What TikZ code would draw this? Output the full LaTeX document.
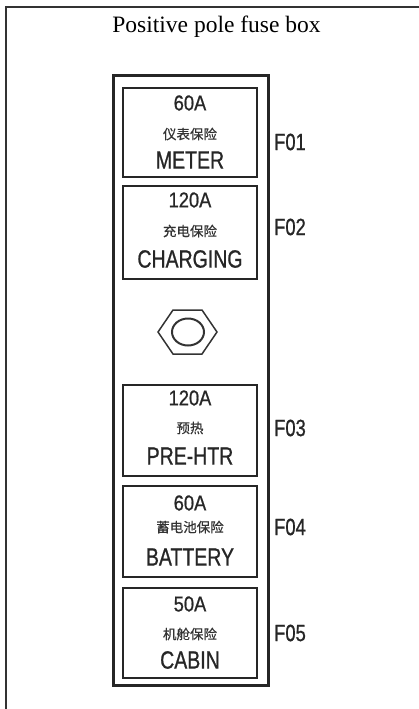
\documentclass[tikz,border=0pt]{standalone}
\usepackage{fontspec}
\setmainfont{Liberation Serif}
\newfontfamily\narrowsans[FakeStretch=0.78,FakeBold=0.8]{Liberation Sans}
\newfontfamily\ampsans[FakeStretch=0.85,FakeBold=0.8]{Liberation Sans}
\newfontfamily\cjk[FakeBold=0.6]{Noto Sans CJK SC}
\begin{document}
\begin{tikzpicture}[x=1pt,y=-1pt,
  fusebox/.style={draw=black!85,line width=2pt},
  amp/.style={font=\ampsans\fontsize{21.5}{21.5}\selectfont,inner sep=0pt,text=black!85},
  cn/.style={font=\cjk\fontsize{13.5}{13.5}\selectfont,inner sep=0pt,text=black!80},
  lbl/.style={font=\narrowsans\fontsize{25}{25}\selectfont,inner sep=0pt,text=black!85},
  fid/.style={font=\narrowsans\fontsize{23.5}{23.5}\selectfont,inner sep=0pt,text=black!85}]
\useasboundingbox (0,0) rectangle (419,709);
% page frame
\draw[line width=1.5pt,black!80] (6,712) -- (6,7) -- (422,7);
% title
\node[font=\fontsize{23.5}{23.5}\selectfont,anchor=base] (title) at (216.5,33) {Positive pole fuse box};
% outer fuse box
\draw[line width=3pt,black!85] (113,75) rectangle (268,685);
% fuse boxes
\draw[fusebox] (123,88) rectangle (257,177);
\draw[fusebox] (123,186) rectangle (257,279);
\draw[fusebox] (123,385) rectangle (257,476);
\draw[fusebox] (123,486) rectangle (257,577);
\draw[fusebox] (123,588) rectangle (257,678);
% F01
\node[amp] (a1) at (190,103) {60A};
\node[cn] (c1) at (190,134) {仪表保险};
\node[lbl] (l1) at (190,160) {METER};
\node[fid] (f1) at (290,142) {F01};
% F02
\node[amp] (a2) at (190,200) {120A};
\node[cn] (c2) at (190,231) {充电保险};
\node[lbl] (l2) at (190,259) {CHARGING};
\node[fid] (f2) at (290,227) {F02};
% F03
\node[amp] (a3) at (190,398) {120A};
\node[cn] (c3) at (190,428) {预热};
\node[lbl] (l3) at (190,456) {PRE-HTR};
\node[fid] (f3) at (290,428) {F03};
% F04
\node[amp] (a4) at (190,503) {60A};
\node[cn] (c4) at (190,527) {蓄电池保险};
\node[lbl] (l4) at (190,557) {BATTERY};
\node[fid] (f4) at (290,527) {F04};
% F05
\node[amp] (a5) at (190,604) {50A};
\node[cn] (c5) at (190,634) {机舱保险};
\node[lbl] (l5) at (190,660) {CABIN};
\node[fid] (f5) at (290,633) {F05};
% hex nut
\draw[line width=1.5pt,black!80] (158,332) -- (173,310) -- (202,310) -- (217,332) -- (202,354) -- (173,354) -- cycle;
\draw[line width=2pt,black!80] (188,332) ellipse [x radius=16, y radius=13.5];
\end{tikzpicture}
\end{document}
